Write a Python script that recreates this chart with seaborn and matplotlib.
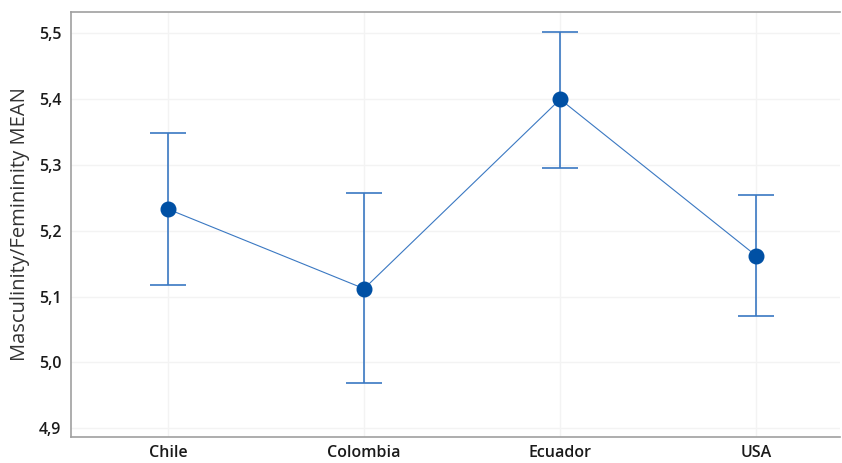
import matplotlib
matplotlib.use("Agg")
import matplotlib.pyplot as plt
import seaborn as sns
import pandas as pd
from matplotlib.ticker import FuncFormatter

countries = ["Chile", "Colombia", "Ecuador", "USA"]
means = [5.233, 5.112, 5.400, 5.162]
lower = [5.117, 4.968, 5.295, 5.071]
upper = [5.349, 5.257, 5.502, 5.255]
yticks = [4.9, 5.0, 5.1, 5.2, 5.3, 5.4, 5.5]

sns.set_theme(style="white")
plt.rcParams['font.family'] = ['Open Sans', 'DejaVu Sans']

df = pd.DataFrame({"country": countries, "mean": means})

fig = plt.figure(figsize=(8.42, 4.63), dpi=100)
ax = fig.add_axes([0.0843, 0.0560, 0.9135, 0.9180])

line_col = "#3a78c2"
mark_col = "#0050a4"

ax.errorbar(range(len(countries)), means,
            yerr=[[m - l for m, l in zip(means, lower)], [u - m for m, u in zip(means, upper)]],
            fmt="none", ecolor=line_col, elinewidth=1.2, capsize=13.3, capthick=1.2, zorder=2)
sns.pointplot(data=df, x="country", y="mean", errorbar=None, color=line_col,
              markers="o", linestyles="-", ax=ax, linewidth=0.8, markersize=0, zorder=3)
ax.plot(range(len(countries)), means, "o", color=mark_col, markersize=10.5, zorder=4)

ax.set_xlim(-0.495, 3.428)
ax.set_ylim(4.8864, 5.5326)
ax.set_yticks(yticks)
ax.yaxis.set_major_formatter(FuncFormatter(lambda v, p: f"{v:.1f}".replace(".", ",")))
ax.grid(True, color="#f3f3f3", linewidth=1)
ax.set_axisbelow(True)

for s in ["left", "top", "bottom"]:
    ax.spines[s].set_color("#a0a0a0")
    ax.spines[s].set_linewidth(1.2)
ax.spines["right"].set_visible(False)

ax.tick_params(axis="both", which="major", length=4, width=1, color="#a0a0a0",
               labelsize=11.5, labelcolor="#1a1a1a", pad=3)
ax.tick_params(axis="x", pad=1.5)
for lab in ax.get_xticklabels() + ax.get_yticklabels():
    lab.set_fontweight("semibold")
ax.set_xlabel("")
ax.set_ylabel("Masculinity/Femininity MEAN", fontsize=14.5, color="#333333", labelpad=6)

fig.savefig("out.png", dpi=100)
